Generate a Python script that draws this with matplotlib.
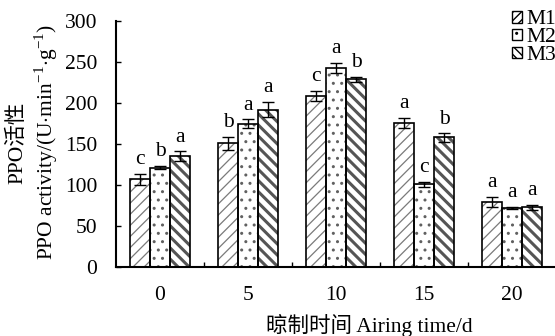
import numpy as np
import matplotlib as mpl
import matplotlib.pyplot as plt
from matplotlib.patches import Patch

plt.rcParams['font.family'] = ['Liberation Serif', 'Noto Sans CJK SC']
plt.rcParams['mathtext.fontset'] = 'custom'
plt.rcParams['mathtext.rm'] = 'Liberation Serif'

days = ['0', '5', '10', '15', '20']
series = ['M1', 'M2', 'M3']
m1 = [107, 151, 209, 176, 79]
m2 = [121, 175, 243, 101, 72]
m3 = [135, 192, 229, 158, 73]
m1_err = [7, 8, 6, 6, 6]
m2_err = [2, 5, 6, 3, 1]
m3_err = [6, 9, 3, 5, 3]
letters = [['c', 'b', 'c', 'a', 'a'],
           ['b', 'a', 'a', 'c', 'a'],
           ['a', 'a', 'b', 'b', 'a']]

values = [m1, m2, m3]
errors = [m1_err, m2_err, m3_err]
hatches = ['///', '..', '\\\\\\']
hatch_colors = ['#7a7a7a', '#606060', '#555555']
hatch_lw = [0.9, 1.0, 2.2]
fs = 15.5

fig = plt.figure(figsize=(5.55, 3.36), dpi=100)
ax = fig.add_axes([116 / 555, 69 / 336, 440 / 555, 246 / 336])

x = np.arange(len(days))
w = 0.227
for i in range(3):
    pos = x + (i - 1) * w
    with mpl.rc_context({'hatch.linewidth': hatch_lw[i]}):
        ax.bar(pos, values[i], w, color='white', edgecolor=hatch_colors[i],
               hatch=hatches[i], linewidth=0, zorder=2)
    ax.bar(pos, values[i], w, fill=False, edgecolor='black', linewidth=1.2,
           zorder=3)
    ax.errorbar(pos, values[i], yerr=errors[i], fmt='none', ecolor='black',
                elinewidth=1, capsize=4, capthick=1, zorder=4)
    for j in range(len(days)):
        ax.text(pos[j], values[i][j] + errors[i][j] + 12, letters[i][j],
                ha='center', va='baseline', fontsize=fs)

ax.set_xlim(-0.5, 4.5)
ax.set_ylim(0, 300)
ax.set_yticks(range(0, 301, 50))
ax.set_xticks(x)
ax.set_xticklabels(days)
ax.set_xticks(x[:-1] + 0.5, minor=True)
ax.tick_params(axis='x', which='major', length=0, pad=14, labelsize=fs)
ax.tick_params(axis='x', which='minor', direction='in', length=3.6, width=1)
ax.tick_params(axis='y', direction='in', length=3.6, width=1, labelsize=fs,
               pad=13.5)
for s in ['top', 'right']:
    ax.spines[s].set_visible(False)
for s in ['left', 'bottom']:
    ax.spines[s].set_linewidth(1.5)

fig.text(17 / 555, 1 - 143 / 336, 'PPO活性', rotation=90, ha='center',
         va='center', fontsize=fs)
fig.text(46 / 555, 1 - 142 / 336, r'PPO activity/(U$\cdot$min$^{-1}$$\cdot$g$^{-1}$)',
         rotation=90, ha='center', va='center', fontsize=fs)
fig.text(369 / 555, 1 - 325 / 336, '晾制时间 Airing time/d', ha='center',
         va='center', fontsize=fs)

handles = [Patch(facecolor='white', edgecolor='black', hatch=h, linewidth=1)
           for h in ['////', '..', '\\\\\\\\']]
ax.legend(handles, series, loc='upper right', bbox_to_anchor=(1.0, 1.043),
          frameon=False, fontsize=fs, handlelength=0.45, handleheight=0.45,
          handletextpad=0.2, labelspacing=-0.05, borderaxespad=0,
          borderpad=0)

fig.savefig('out.png', dpi=100)
